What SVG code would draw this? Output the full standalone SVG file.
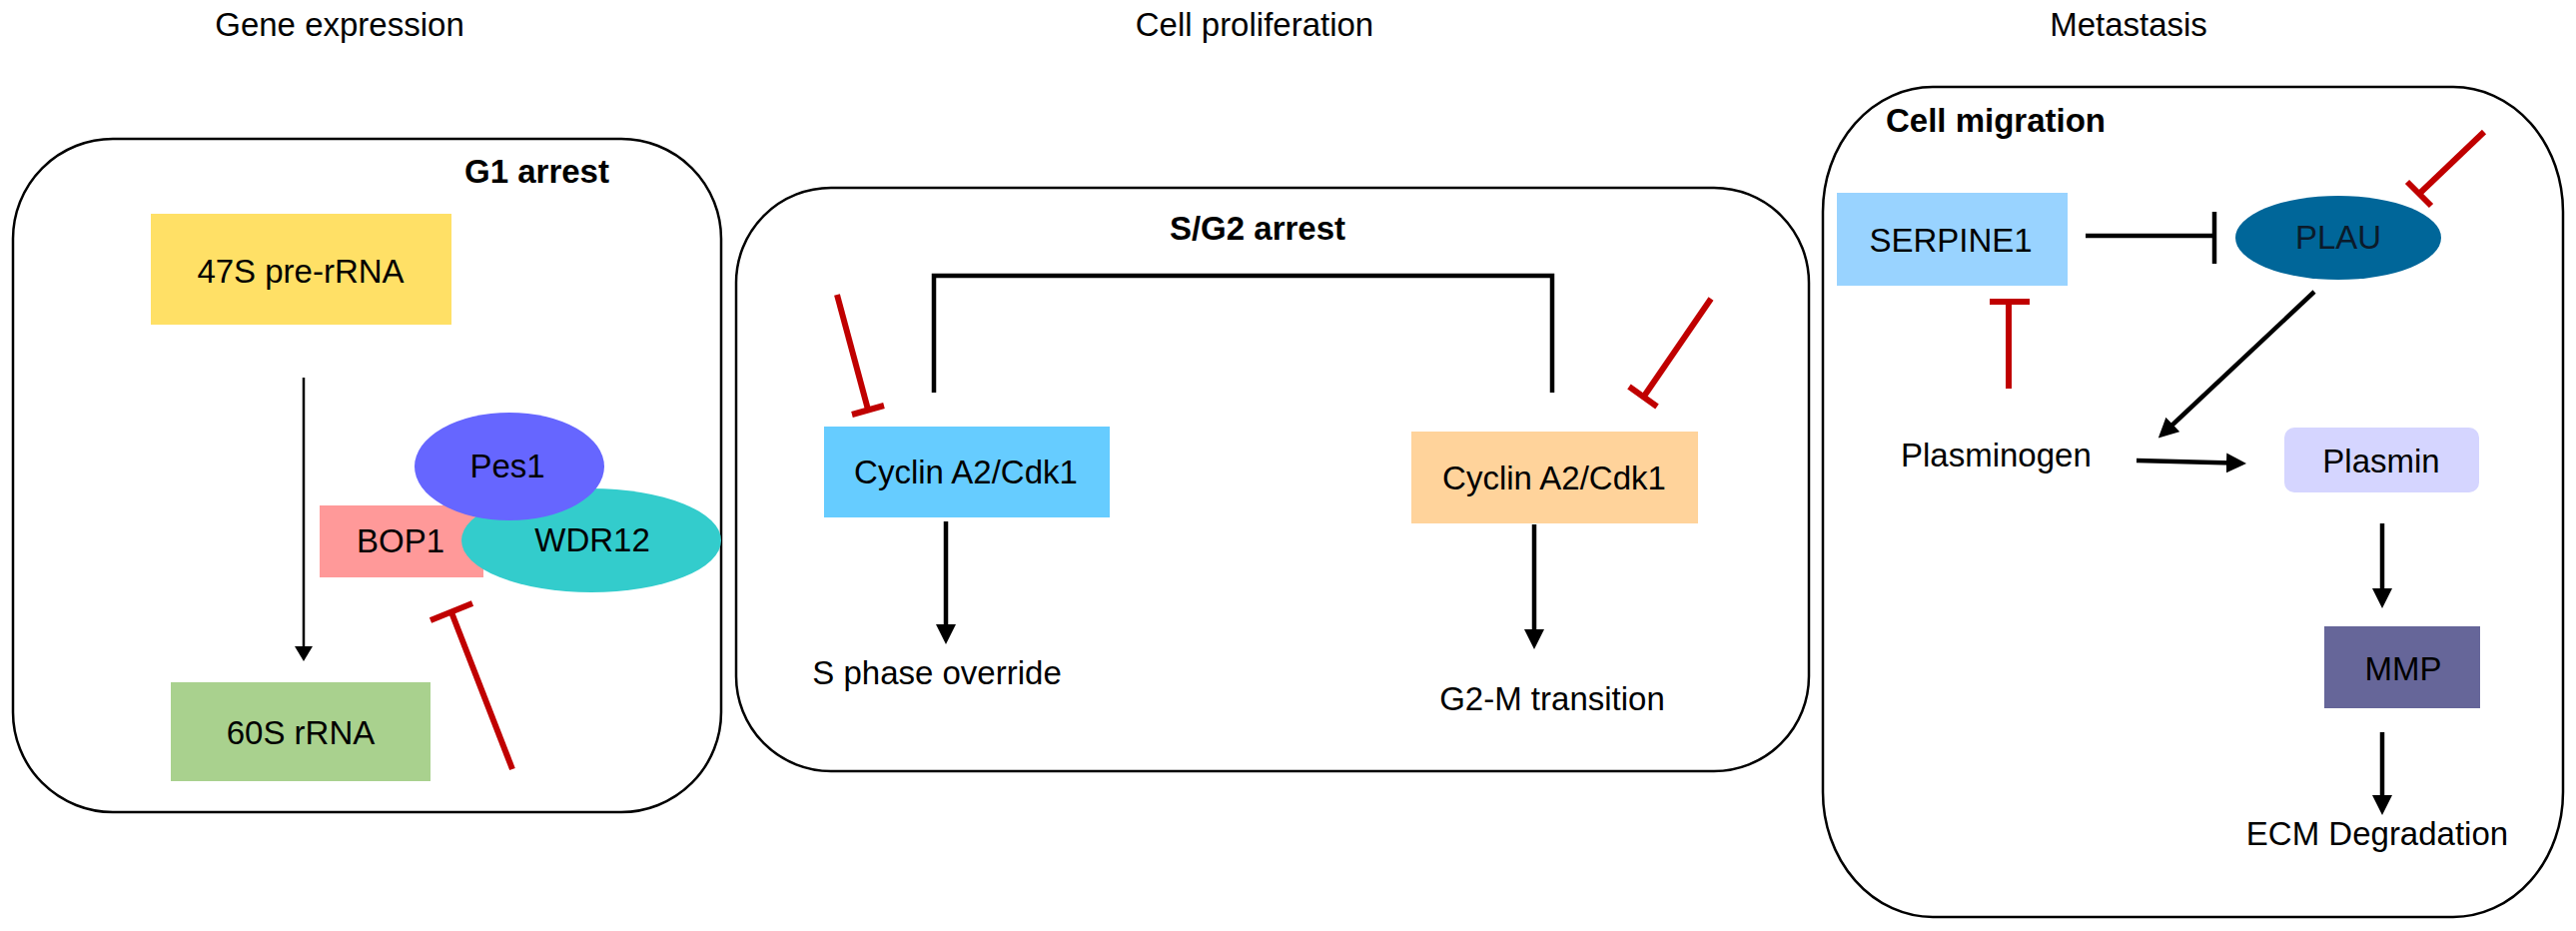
<svg xmlns="http://www.w3.org/2000/svg" width="2579" height="932" viewBox="0 0 2579 932">
<style>
text{font-family:"Liberation Sans",Arial,sans-serif;font-size:33px;fill:#000}
.b{font-weight:bold}
.c{text-anchor:middle}
.panel{fill:none;stroke:#000;stroke-width:2.5}
.arr{stroke:#000;stroke-width:4.5;fill:none}
.thin{stroke:#000;stroke-width:2.5;fill:none}
.inh{stroke:#C00000;stroke-width:6;fill:none}
.blk{stroke:#000;stroke-width:4.5;fill:none}
</style>
<defs>
<marker id="ah" markerUnits="userSpaceOnUse" markerWidth="20" markerHeight="20" viewBox="0 0 20 20" refX="6" refY="10" orient="auto">
<path d="M0,0 L20,10 L0,20 z" fill="#000"/>
</marker>
<marker id="ahs" markerUnits="userSpaceOnUse" markerWidth="15" markerHeight="18" viewBox="0 0 15 18" refX="4" refY="9" orient="auto">
<path d="M0,0 L15,9 L0,18 z" fill="#000"/>
</marker>
</defs>
<rect width="2579" height="932" fill="#fff"/>

<g id="titles">
<text class="c" x="340" y="36">Gene expression</text>
<text class="c" x="1256" y="36">Cell proliferation</text>
<text class="c" x="2131" y="36">Metastasis</text>
</g>

<g id="panel-gene">
<rect class="panel" x="13" y="139" width="709" height="674" rx="100" ry="100"/>
<text class="b" x="465" y="183">G1 arrest</text>
</g>
<g id="panel-prolif">
<rect class="panel" x="737" y="188" width="1074" height="584" rx="95" ry="95"/>
<text class="b c" x="1259" y="240">S/G2 arrest</text>
</g>
<g id="panel-meta">
<rect class="panel" x="1825" y="87" width="741" height="831" rx="110" ry="125"/>
<text class="b" x="1888" y="132">Cell migration</text>
</g>

<g id="n47S">
<rect x="151" y="214" width="301" height="111" fill="#FFE066"/>
<text class="c" x="301" y="283">47S pre-rRNA</text>
</g>
<g id="n60S">
<rect x="171" y="683" width="260" height="99" fill="#A9D18E"/>
<text class="c" x="301" y="745">60S rRNA</text>
</g>
<g id="nBOP1">
<rect x="320" y="506" width="164" height="72" fill="#FF9999"/>
<text class="c" x="401" y="553">BOP1</text>
</g>
<g id="nWDR12">
<ellipse cx="592" cy="541" rx="130" ry="52" fill="#33CCCC"/>
<text class="c" x="593" y="552">WDR12</text>
</g>
<g id="nPes1">
<ellipse cx="510" cy="467" rx="95" ry="54" fill="#6666FF"/>
<text class="c" x="508" y="478">Pes1</text>
</g>

<g id="nCyclinS">
<rect x="825" y="427" width="286" height="91" fill="#66CCFF"/>
<text class="c" x="967" y="484">Cyclin A2/Cdk1</text>
</g>
<g id="nCyclinG2">
<rect x="1413" y="432" width="287" height="92" fill="#FFD39B"/>
<text class="c" x="1556" y="490">Cyclin A2/Cdk1</text>
</g>
<g id="nSphase">
<text class="c" x="938" y="685">S phase override</text>
</g>
<g id="nG2M">
<text class="c" x="1554" y="711">G2-M transition</text>
</g>

<g id="nSERPINE1">
<rect x="1839" y="193" width="231" height="93" fill="#99D3FF"/>
<text class="c" x="1953" y="252">SERPINE1</text>
</g>
<g id="nPLAU">
<ellipse cx="2341" cy="238" rx="103" ry="42" fill="#006699"/>
<text class="c" x="2341" y="249" style="fill:#0B1B2B">PLAU</text>
</g>
<g id="nPlasminogen">
<text x="1903" y="467">Plasminogen</text>
</g>
<g id="nPlasmin">
<rect x="2287" y="428" width="195" height="65" rx="10" ry="10" fill="#D5D5FF"/>
<text class="c" x="2384" y="473">Plasmin</text>
</g>
<g id="nMMP">
<rect x="2327" y="627" width="156" height="82" fill="#666699"/>
<text class="c" x="2406" y="681">MMP</text>
</g>
<g id="nECM">
<text class="c" x="2380" y="846">ECM Degradation</text>
</g>

<g id="connectors">
<line class="thin" x1="304" y1="378" x2="304" y2="651" marker-end="url(#ahs)"/>
<line class="inh" x1="513" y1="770" x2="452" y2="613"/>
<line class="inh" x1="431" y1="621" x2="473" y2="604"/>

<path class="blk" d="M935,393 V276 H1554 V393"/>
<line class="inh" x1="838" y1="295" x2="869" y2="410"/>
<line class="inh" x1="853" y1="415" x2="885" y2="406"/>
<line class="inh" x1="1713" y1="299" x2="1645" y2="398"/>
<line class="inh" x1="1631" y1="387" x2="1659" y2="407"/>
<line class="arr" x1="947" y1="522" x2="947" y2="631" marker-end="url(#ah)"/>
<line class="arr" x1="1536" y1="525" x2="1536" y2="636" marker-end="url(#ah)"/>

<line class="blk" x1="2088" y1="236" x2="2217" y2="236"/>
<line class="blk" x1="2217" y1="212" x2="2217" y2="264"/>
<line class="inh" x1="2487" y1="132" x2="2422" y2="194"/>
<line class="inh" x1="2410" y1="182" x2="2434" y2="206"/>
<line class="inh" x1="2011" y1="389" x2="2011" y2="302"/>
<line class="inh" x1="1992" y1="302" x2="2032" y2="302"/>
<line class="arr" x1="2317" y1="292" x2="2171" y2="429" marker-end="url(#ah)"/>
<line class="arr" x1="2139" y1="461" x2="2235" y2="463.6" marker-end="url(#ah)"/>
<line class="arr" x1="2385" y1="524" x2="2385" y2="595" marker-end="url(#ah)"/>
<line class="arr" x1="2385" y1="733" x2="2385" y2="802" marker-end="url(#ah)"/>
</g>
</svg>
